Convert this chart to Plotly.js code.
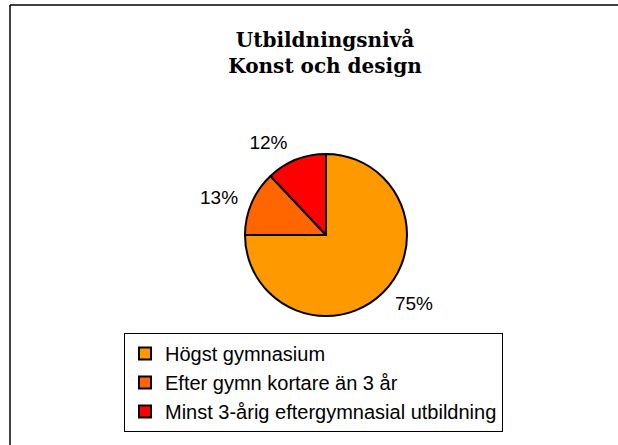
<!DOCTYPE html>
<html>
<head>
<meta charset="utf-8">
<script src="https://cdn.plot.ly/plotly-3.0.1.min.js"></script>
<style>
  html, body { margin: 0; padding: 0; background: #fff; }
  #chart { width: 618px; height: 445px; }
</style>
</head>
<body>
<div id="chart"></div>
<script>
const categories = ["Högst gymnasium", "Efter gymn kortare än 3 år", "Minst 3-årig eftergymnasial utbildning"];
const shares = [75, 13, 12];
const sliceColors = ["#FF9900", "#FF6600", "#FF0000"];
const titleLines = ["Utbildningsnivå", "Konst och design"];

const W = 618, H = 445;
const CX = 326, CY = 210, R = 81, RLABEL = 90;
const labelFont = { family: "Liberation Sans, Arial, sans-serif", size: 19, color: "#000" };

// visible pie (slices only)
const pieTrace = {
  type: "pie",
  labels: categories,
  values: shares,
  sort: false,
  direction: "clockwise",
  rotation: 0,
  textinfo: "none",
  marker: { colors: sliceColors, line: { color: "#000", width: 2 } },
  domain: { x: [(CX - R) / W, (CX + R) / W], y: [(CY - R) / H, (CY + R) / H] },
  hoverinfo: "label+percent"
};

// same data, transparent, slightly larger, only to carry the outside percentage labels
const labelTrace = {
  type: "pie",
  labels: categories,
  values: shares,
  sort: false,
  direction: "clockwise",
  rotation: 0,
  showlegend: false,
  textinfo: "percent",
  textposition: "outside",
  texttemplate: "%{percent:.0%}",
  outsidetextfont: labelFont,
  marker: { colors: ["rgba(0,0,0,0)", "rgba(0,0,0,0)", "rgba(0,0,0,0)"], line: { width: 0 } },
  domain: { x: [(CX - RLABEL) / W, (CX + RLABEL) / W], y: [(CY - RLABEL) / H, (CY + RLABEL) / H] },
  hoverinfo: "skip"
};

const layout = {
  width: W, height: H,
  margin: { l: 0, r: 0, t: 0, b: 0 },
  paper_bgcolor: "#fff",
  title: {
    text: titleLines.join("<br>"),
    font: { family: "DejaVu Serif, serif", size: 20, color: "#000", weight: "bold" },
    x: 325 / W, xanchor: "center",
    y: 1 - 47 / H, yanchor: "top",
    xref: "paper", yref: "container"
  },
  showlegend: true,
  legend: {
    x: 124 / W, xanchor: "left",
    y: 1 - 333 / H, yanchor: "top",
    bgcolor: "#fff",
    bordercolor: "#000", borderwidth: 1,
    font: { family: "Liberation Sans, Arial, sans-serif", size: 20, color: "#000" },
    traceorder: "normal"
  },
  shapes: [
    { type: "line", xref: "paper", yref: "paper", x0: 10 / W, x1: 1.05, y0: 1 - 5 / H, y1: 1 - 5 / H, line: { color: "#000", width: 1.5 } },
    { type: "line", xref: "paper", yref: "paper", x0: 10 / W, x1: 10 / W, y0: -0.05, y1: 1 - 5 / H, line: { color: "#000", width: 1.5 } }
  ]
};

Plotly.newPlot("chart", [labelTrace, pieTrace], layout, { displayModeBar: false, staticPlot: true });
</script>
</body>
</html>
